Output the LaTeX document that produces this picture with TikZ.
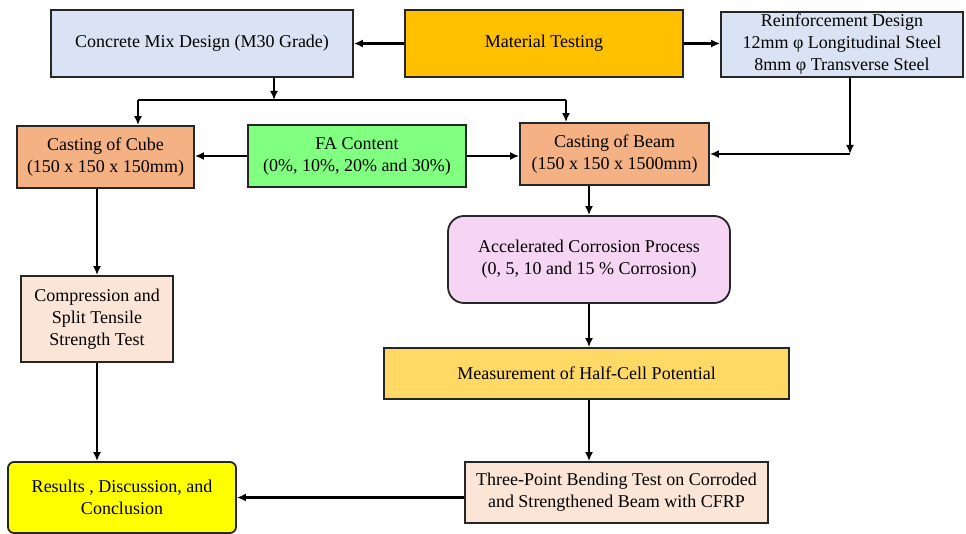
\documentclass[tikz,border=0pt]{standalone}
\usepackage{fontspec}
\setmainfont{Liberation Serif}
\usetikzlibrary{arrows.meta}

\definecolor{mixblue}{HTML}{DAE3F3}
\definecolor{testgold}{HTML}{FFC000}
\definecolor{castorange}{HTML}{F4B183}
\definecolor{fagreen}{HTML}{80FF80}
\definecolor{testpeach}{HTML}{FBE5D6}
\definecolor{corrpink}{HTML}{F6D5F4}
\definecolor{measgold}{HTML}{FFD966}
\definecolor{resyellow}{HTML}{FFFF00}

\tikzset{
  procbox/.style={draw=black!85, line width=1.8pt, align=center, inner sep=2pt,
    font=\rmfamily\fontsize{18}{22}\selectfont},
  flow/.style={line width=2.4pt, -{Latex[length=9pt,width=8pt]}}
}

\begin{document}
\begin{tikzpicture}[x=1pt,y=-1pt]
  \useasboundingbox (0,0) rectangle (966,534);

  \node[procbox, fill=mixblue, minimum width=302pt, minimum height=67pt] (mix) at (202,43.5) {Concrete Mix Design (M30 Grade)};
  \node[procbox, fill=testgold, minimum width=278pt, minimum height=67pt] (test) at (544,43.5) {Material Testing};
  \node[procbox, fill=mixblue, minimum width=242pt, minimum height=65pt] (reinf) at (842,44.5) {Reinforcement Design\\12mm φ Longitudinal Steel\\8mm φ Transverse Steel};

  \node[procbox, fill=castorange, minimum width=177pt, minimum height=62pt] (cube) at (105.5,157) {Casting of Cube\\(150 x 150 x 150mm)};
  \node[procbox, fill=fagreen, minimum width=218pt, minimum height=62pt] (fa) at (357,156) {FA Content\\(0\%, 10\%, 20\% and 30\%)};
  \node[procbox, fill=castorange, minimum width=189pt, minimum height=62pt] (beam) at (614.5,154) {Casting of Beam\\(150 x 150 x 1500mm)};

  \node[procbox, fill=testpeach, minimum width=152pt, minimum height=86pt] (comp) at (97,319) {Compression and\\Split Tensile\\Strength Test};
  \node[procbox, fill=corrpink, rounded corners=16pt, minimum width=282pt, minimum height=87pt] (acc) at (589,259.5) {Accelerated Corrosion Process\\(0, 5, 10 and 15 \% Corrosion)};
  \node[procbox, fill=measgold, minimum width=405pt, minimum height=51pt] (meas) at (586.5,373.5) {Measurement of Half-Cell Potential};
  \node[procbox, fill=testpeach, minimum width=303pt, minimum height=61pt] (three) at (616.5,492.5) {Three-Point Bending Test on Corroded\\and Strengthened Beam with CFRP};
  \node[procbox, fill=resyellow, rounded corners=6pt, minimum width=228pt, minimum height=71pt] (res) at (122,497.5) {Results , Discussion, and\\Conclusion};

  % top row
  \draw[flow] (test.west) -- (mix.east);
  \draw[flow] (test.east) -- (test.east -| reinf.west);

  % mix design split to cube and beam
  \coordinate (split) at (274,100);
  \coordinate (cubein) at (138,100);
  \coordinate (beamin) at (566,100);
  \draw[flow] (split |- mix.south) -- (split);
  \draw[line width=2.4pt] (cubein) -- (beamin);
  \draw[flow] (cubein) -- (cubein |- cube.north);
  \draw[flow] (beamin) -- (beamin |- beam.north);

  % FA content
  \draw[flow] (fa.west) -- (fa.west -| cube.east);
  \draw[flow] (fa.east) -- (fa.east -| beam.west);

  % reinforcement to beam
  \coordinate (corner) at (850,154);
  \draw[flow] (corner |- reinf.south) -- (corner);
  \draw[flow] (corner) -- (beam.east);

  % cube branch
  \draw[flow] (comp.north |- cube.south) -- (comp.north);
  \draw[flow] (comp.south) -- (comp.south |- res.north);

  % beam branch
  \draw[flow] (acc.north |- beam.south) -- (acc.north);
  \draw[flow] (acc.south) -- (acc.south |- meas.north);
  \draw[flow] (acc.south |- meas.south) -- (acc.south |- three.north);
  \draw[flow] (res.east -| three.west) -- (res.east);
\end{tikzpicture}
\end{document}
